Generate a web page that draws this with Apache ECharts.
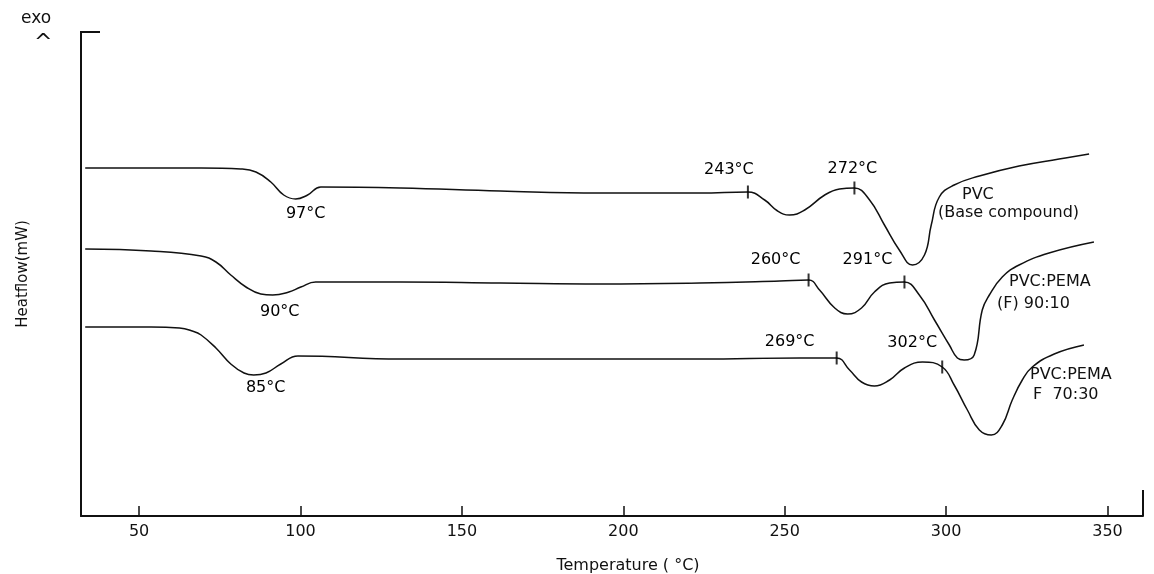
<!DOCTYPE html>
<html>
<head>
<meta charset="utf-8">
<title>DSC thermograms</title>
<script src="https://cdn.jsdelivr.net/npm/echarts@6/dist/echarts.min.js"></script>
<style>
  html, body { margin: 0; padding: 0; background: #fff; }
  #chart { width: 1154px; height: 574px; }
</style>
</head>
<body>
<div id="chart"></div>
<script>
// temperature (°C) vs heat flow (arbitrary units, exo up)
const pvcBase = [
  [33.3, 350], [53.7, 350], [69.2, 350], [81.5, 349], [86.2, 346], [90.8, 336],
  [94.8, 323], [98.5, 319], [102.2, 323], [106.3, 331], [131, 330], [161.9, 327],
  [192.8, 325], [223.7, 325], [238.6, 326], [243.8, 318], [247.8, 307], [251.5, 303],
  [256.2, 308], [262.4, 323], [267, 329], [271.6, 330], [276.3, 318], [280.9, 293],
  [285.5, 268], [289.6, 253], [293.3, 263], [295.4, 293], [297.9, 321], [302.5, 333],
  [310.3, 342], [322.6, 352], [335, 359], [344.3, 364]
]
const pema9010 = [
  [33.3, 269], [53.7, 267], [69.2, 262], [73.8, 256], [78.4, 243], [83.1, 231],
  [87.7, 224], [91.4, 223], [96.4, 226], [100.1, 231], [104.7, 236], [131, 236],
  [161.9, 235], [192.8, 234], [223.7, 235], [248.5, 237], [257.4, 238], [260.8, 228],
  [265.5, 210], [269.5, 204], [273.8, 210], [277.8, 226], [282.5, 235], [287.1, 236],
  [291.7, 223], [296.4, 198], [301, 173], [303.5, 160], [305.6, 158], [308.7, 163],
  [311.2, 208], [313.4, 223], [317.4, 241], [322.6, 253], [331.9, 265], [345.8, 276]
]
const pema7030 = [
  [33.3, 191], [53.7, 191], [62.5, 190], [66.5, 187], [69.2, 183], [73.8, 170], [78.4, 154],
  [82.5, 145], [85.5, 143], [89.3, 145], [93.9, 154], [99.2, 162], [131, 159],
  [161.9, 159], [192.8, 159], [223.7, 159], [254.6, 160], [266.1, 160], [270.1, 148],
  [273.8, 136], [277.8, 132], [282.5, 138], [287.1, 150], [292.7, 156], [298.8, 151],
  [302.5, 133], [306.6, 108], [310.3, 88], [314, 83], [317.4, 93], [320.5, 118],
  [323.6, 138], [326.7, 151], [333.5, 164], [342.7, 173]
]

// onset / peak marks drawn as short ticks on the curves
const tickPoints = [
  [238.6, 326], [271.6, 330],
  [257.4, 238], [287.1, 236],
  [266.1, 160], [298.8, 151]
]

// temperature annotations: [T, heat flow, label]
const annotations = [
  [98.5, 319, '97'], [238.6, 326, '243'], [271.6, 330, '272'],
  [91.4, 223, '90'], [257.4, 238, '260'], [287.1, 236, '291'],
  [85.5, 143, '85'], [266.1, 160, '269'], [298.8, 151, '302']
]

const xTicks = [50, 100, 150, 200, 250, 300, 350]

// label placement for each annotation (same order as above)
const annPlace = [
  ['bottom', [10, 0]], ['top', [-19, -8]], ['top', [-2, -5]],
  ['bottom', [7, 2]], ['top', [-33, -6]], ['top', [-37, -8]],
  ['bottom', [12, -2]], ['top', [-47, -2]], ['top', [-30, -10]]
]

const font = '"DejaVu Sans", sans-serif'
const ink = '#111'

function curve(name, data) {
  return {
    name: name,
    type: 'line',
    data: data,
    smooth: 0.45,
    symbol: 'none',
    lineStyle: { color: ink, width: 1.5 },
    z: 2
  }
}

const chart = echarts.init(document.getElementById('chart'))

chart.setOption({
  animation: false,
  backgroundColor: '#fff',
  grid: { left: 81, right: 11, top: 32, bottom: 58, outerBoundsMode: 'none', containLabel: false },
  xAxis: {
    type: 'value',
    min: 32,
    max: 361,
    name: 'Temperature ( °C)',
    nameLocation: 'middle',
    nameGap: 42,
    nameTextStyle: { fontFamily: font, fontSize: 16, color: ink, padding: [0, 0, 0, 32] },
    axisLine: { show: true, lineStyle: { color: ink, width: 2 } },
    axisTick: { show: true, inside: true, length: 10, customValues: xTicks, lineStyle: { color: ink, width: 1.5 } },
    axisLabel: { customValues: xTicks, fontFamily: font, fontSize: 16, color: ink, margin: 8 },
    splitLine: { show: false }
  },
  yAxis: {
    type: 'value',
    min: 2,
    max: 486,
    name: 'Heatflow(mW)',
    nameLocation: 'middle',
    nameRotate: 90,
    nameGap: 50,
    nameTextStyle: { fontFamily: font, fontSize: 15, color: ink },
    axisLine: { show: true, lineStyle: { color: ink, width: 2 } },
    axisTick: { show: false },
    axisLabel: { show: false },
    splitLine: { show: false }
  },
  series: [
    curve('PVC (Base compound)', pvcBase),
    curve('PVC:PEMA (F) 90:10', pema9010),
    curve('PVC:PEMA F 70:30', pema7030),
    {
      name: 'marks',
      type: 'scatter',
      data: tickPoints,
      symbol: 'rect',
      symbolSize: [2, 13],
      itemStyle: { color: '#000' },
      z: 3
    },
    {
      name: 'temperatures',
      type: 'scatter',
      symbol: 'circle',
      symbolSize: 1,
      itemStyle: { color: 'rgba(0,0,0,0)' },
      data: annotations.map((a, i) => ({
        value: [a[0], a[1]],
        label: { position: annPlace[i][0], offset: annPlace[i][1] }
      })),
      label: {
        show: true,
        distance: 6,
        formatter: (p) => annotations[p.dataIndex][2] + '°C',
        fontFamily: font,
        fontSize: 16,
        color: '#000',
        opacity: 1
      },
      z: 4
    }
  ],
  graphic: [
    { type: 'text', left: 21, top: 10, style: { text: 'exo', font: '17px ' + font, fill: ink } },
    { type: 'text', left: 34, top: 32, style: { text: '^', font: '22px ' + font, fill: ink } },
    { type: 'line', shape: { x1: 80, y1: 32, x2: 100, y2: 32 }, style: { stroke: ink, lineWidth: 2 } },
    { type: 'line', shape: { x1: 1143, y1: 516, x2: 1143, y2: 490 }, style: { stroke: ink, lineWidth: 2 } },
    { type: 'text', left: 962, top: 187, style: { text: 'PVC', font: '16px ' + font, fill: ink } },
    { type: 'text', left: 938, top: 205, style: { text: '(Base compound)', font: '16px ' + font, fill: ink } },
    { type: 'text', left: 1009, top: 274, style: { text: 'PVC:PEMA', font: '16px ' + font, fill: ink } },
    { type: 'text', left: 997, top: 296, style: { text: '(F) 90:10', font: '16px ' + font, fill: ink } },
    { type: 'text', left: 1030, top: 367, style: { text: 'PVC:PEMA', font: '16px ' + font, fill: ink } },
    { type: 'text', left: 1033, top: 387, style: { text: 'F  70:30', font: '16px ' + font, fill: ink } }
  ]
})
</script>
</body>
</html>
